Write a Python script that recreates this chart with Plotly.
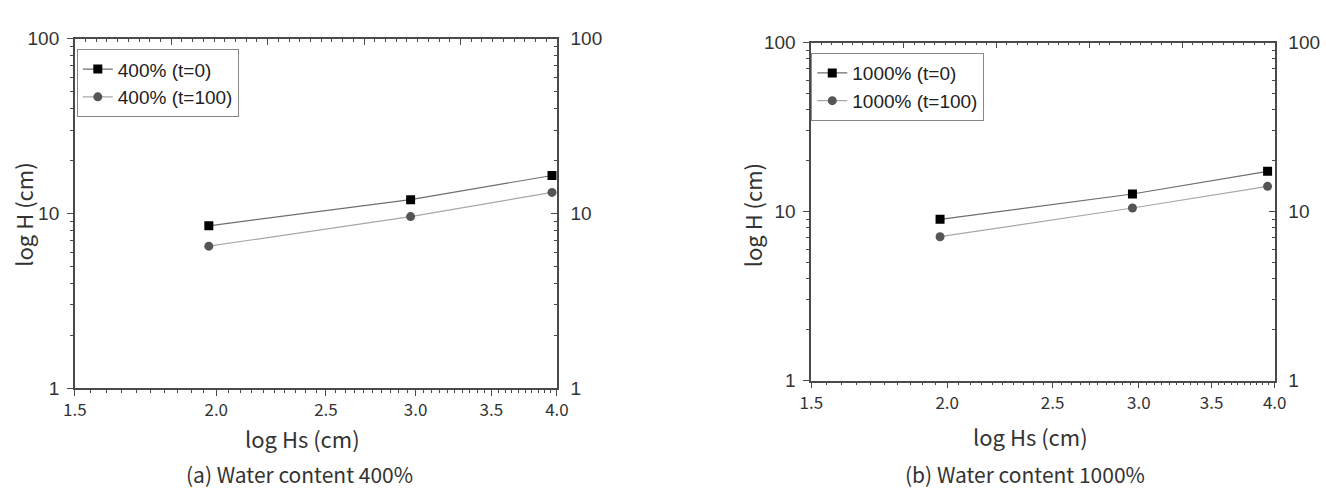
import numpy as np
import plotly.graph_objects as go

# ---- data ----
hs_a = [1.97, 2.97, 3.96]
h_a_t0 = [8.5, 12.0, 16.5]
h_a_t100 = [6.5, 9.6, 13.2]

hs_b = [1.97, 2.96, 3.94]
h_b_t0 = [9.0, 12.7, 17.3]
h_b_t100 = [7.1, 10.5, 14.1]

names_a = ["400% (t=0)", "400% (t=100)"]
names_b = ["1000% (t=0)", "1000% (t=100)"]

x_tickvals = [1.5, 2.0, 2.5, 3.0, 3.5, 4.0]
x_ticktext = ["1.5", "2.0", "2.5", "3.0", "3.5", "4.0"]
y_tickvals = [1, 10, 100]
y_ticktext = ["1", "10", "100"]
captions = ["(a) Water content 400%", "(b) Water content 1000%"]

W, H = 1326, 495
AX = "#4a4a4a"
KR = "Noto Sans CJK KR"
AR = "Arial, Liberation Sans, sans-serif"

x_minor = list(np.round(np.arange(1.55, 4.0, 0.05), 2))
y_minor = [2, 3, 4, 5, 6, 7, 8, 9, 20, 30, 40, 50, 60, 70, 80, 90]

fig = go.Figure()

def add_series(xs, ys, name, xa, ya, legend, sym, mcol, lcol):
    fig.add_trace(go.Scatter(
        x=xs, y=ys, name=name, mode="lines+markers",
        xaxis=xa, yaxis=ya, legend=legend,
        line=dict(color=lcol, width=1.2),
        marker=dict(symbol=sym, size=9, color=mcol),
    ))

add_series(hs_a, h_a_t0, names_a[0], "x", "y", "legend", "square", "black", "#6e6e6e")
add_series(hs_a, h_a_t100, names_a[1], "x", "y", "legend", "circle", "#555555", "#a8a8a8")
add_series(hs_b, h_b_t0, names_b[0], "x3", "y3", "legend2", "square", "black", "#6e6e6e")
add_series(hs_b, h_b_t100, names_b[1], "x3", "y3", "legend2", "circle", "#555555", "#a8a8a8")

# empty carriers so the frame axes (top / right) are drawn
for xa, ya in (("x2", "y2"), ("x4", "y4")):
    fig.add_trace(go.Scatter(x=[None], y=[None], xaxis=xa, yaxis=ya,
                             showlegend=False, hoverinfo="skip", mode="markers"))

dom_a_x = [64 / W, 555 / W]
dom_a_y = [1 - 395 / H, 1 - 30 / H]
dom_b_x = [814 / W, 1286 / W]
dom_b_y = [1 - 387 / H, 1 - 34 / H]

xr = [np.log10(1.5), np.log10(4.0)]
yr = [0, 2]

def bottom_x(domain, anchor):
    return dict(
        type="log", range=xr, domain=domain, anchor=anchor,
        showline=True, linecolor=AX, linewidth=1.6, showgrid=False, zeroline=False,
        tickmode="array", tickvals=x_tickvals, ticktext=x_ticktext,
        ticks="outside", ticklen=6, tickwidth=1.4, tickcolor=AX,
        tickfont=dict(family=KR, size=17, color="#333"),
        minor=dict(tickmode="array", tickvals=x_minor, ticks="outside", ticklen=3,
                   tickwidth=1.2, tickcolor=AX, showgrid=False),
    )

def left_y(domain, anchor):
    return dict(
        type="log", range=yr, domain=domain, anchor=anchor,
        showline=True, linecolor=AX, linewidth=1.6, showgrid=False, zeroline=False,
        tickmode="array", tickvals=y_tickvals, ticktext=y_ticktext,
        ticks="outside", ticklen=6, tickwidth=1.4, tickcolor=AX,
        tickfont=dict(family=AR, size=19, color="#333"),
        ticklabelstandoff=4,
        minor=dict(tickmode="array", tickvals=y_minor, ticks="outside", ticklen=3,
                   tickwidth=1.2, tickcolor=AX, showgrid=False),
    )

def top_x(over, anchor):
    return dict(
        overlaying=over, anchor=anchor, side="top", range=[0, 45],
        showline=True, linecolor=AX, linewidth=1.6, showgrid=False, zeroline=False,
        showticklabels=False, tickmode="linear", dtick=9, tick0=0,
        ticks="inside", ticklen=6, tickwidth=1.4, tickcolor=AX,
        minor=dict(dtick=1, tick0=0, ticks="inside", ticklen=3, tickwidth=1.2,
                   tickcolor=AX, showgrid=False),
    )

def right_y(over, anchor):
    return dict(
        type="log", overlaying=over, anchor=anchor, side="right", range=yr,
        showline=True, linecolor=AX, linewidth=1.6, showgrid=False, zeroline=False,
        tickmode="array", tickvals=y_tickvals, ticktext=y_ticktext,
        ticks="inside", ticklen=6, tickwidth=1.4, tickcolor=AX,
        tickfont=dict(family=AR, size=19, color="#333"),
        ticklabelstandoff=8,
        minor=dict(tickmode="array", tickvals=y_minor, ticks="inside", ticklen=3,
                   tickwidth=1.2, tickcolor=AX, showgrid=False),
    )

leg_common = dict(
    xanchor="left", yanchor="top", bgcolor="rgba(255,255,255,0)",
    bordercolor="#888", borderwidth=1,
    font=dict(family=AR, size=19, color="#222"),
    tracegroupgap=0, itemclick=False,
)

fig.update_layout(
    width=W, height=H,
    margin=dict(l=0, r=0, t=0, b=0),
    paper_bgcolor="white", plot_bgcolor="white",
    showlegend=True,
    xaxis=bottom_x(dom_a_x, "y"),
    yaxis=left_y(dom_a_y, "x"),
    xaxis2=top_x("x", "y"),
    yaxis2=right_y("y", "x"),
    xaxis3=bottom_x(dom_b_x, "y3"),
    yaxis3=left_y(dom_b_y, "x3"),
    xaxis4=top_x("x3", "y3"),
    yaxis4=right_y("y3", "x3"),
    legend=dict(x=66 / W, y=1 - 41 / H, **leg_common),
    legend2=dict(x=814 / W, y=1 - 45 / H, **leg_common),
)

def ann(text, xpx, ypx, size, angle=0):
    fig.add_annotation(
        text=text, xref="paper", yref="paper",
        x=xpx / W, y=1 - ypx / H, xanchor="center", yanchor="middle",
        showarrow=False, textangle=angle,
        font=dict(family=KR, size=size, color="#333"),
    )

# axis titles
ann("log Hs (cm)", 296, 447, 22)
ann("log Hs (cm)", 1037, 445, 22)
ann("log H (cm)", 11, 214, 22, -90)
ann("log H (cm)", 754, 214, 22, -90)
# captions
ann(captions[0], 293, 485, 21)
ann(captions[1], 1032, 485, 21)

fig.write_html("out.html")
